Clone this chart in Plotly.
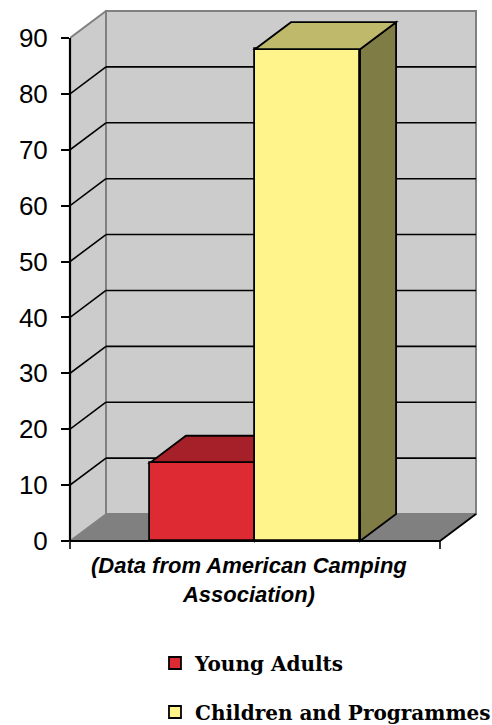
import plotly.graph_objects as go

# ---- data -------------------------------------------------------------
series = ["Young Adults", "Children and Programmes"]
values = [14, 88]
front_colors = ["#DE2B33", "#FFF38B"]
top_colors = ["#A52029", "#BFB96B"]
side_colors = ["#8A1A20", "#807C45"]
y_ticks = [0, 10, 20, 30, 40, 50, 60, 70, 80, 90]
source_note = "(Data from American Camping<br>Association)"

# ---- pseudo-3D geometry (x in category-slot units, y in data units) ---
SLOT = 0.5          # centre of the single category slot spanning [0, 1]
BAR_W = 0.284       # width of each bar's front face
DX = 0.0973         # depth offset along x
DY = 4.83           # depth offset along y
Y_TOP = y_ticks[-1]
X_RANGE = [0, 1.1054]
Y_RANGE = [-1.789, 95.37]

WALL = "#CCCCCC"
FLOOR = "#808080"
EDGE = "#808080"


def poly(points):
    return "M " + " L ".join(f"{x},{y}" for x, y in points) + " Z"


shapes = []

# side wall, back wall and floor
shapes.append(dict(type="path", layer="below", xref="x", yref="y",
                   path=poly([(0, 0), (0, Y_TOP), (DX, Y_TOP + DY), (DX, DY)]),
                   fillcolor=WALL, line=dict(width=0)))
shapes.append(dict(type="rect", layer="below", xref="x", yref="y",
                   x0=DX, x1=1 + DX, y0=DY, y1=Y_TOP + DY,
                   fillcolor=WALL, line=dict(color=EDGE, width=2)))
shapes.append(dict(type="path", layer="below", xref="x", yref="y",
                   path=poly([(0, 0), (1, 0), (1 + DX, DY), (DX, DY)]),
                   fillcolor=FLOOR, line=dict(width=0)))

# gridlines: diagonal on the side wall, horizontal on the back wall
for v in y_ticks[1:-1]:
    shapes.append(dict(type="line", layer="below", xref="x", yref="y",
                       x0=0, y0=v, x1=DX, y1=v + DY,
                       line=dict(color="black", width=1.6)))
    shapes.append(dict(type="line", layer="below", xref="x", yref="y",
                       x0=DX, y0=v + DY, x1=1 + DX, y1=v + DY,
                       line=dict(color="black", width=1.6)))

# box edges
shapes.append(dict(type="line", layer="below", xref="x", yref="y",
                   x0=0, y0=Y_TOP, x1=DX, y1=Y_TOP + DY,
                   line=dict(color=EDGE, width=2)))
shapes.append(dict(type="line", layer="below", xref="x", yref="y",
                   x0=0, y0=0, x1=DX, y1=DY,
                   line=dict(color=EDGE, width=1.5)))
shapes.append(dict(type="line", layer="below", xref="x", yref="y",
                   x0=DX, y0=DY, x1=1 + DX, y1=DY,
                   line=dict(color=EDGE, width=1.5)))

# top and side faces of the bars
offsets = [-BAR_W, 0.0]
for i, v in enumerate(values):
    x0 = SLOT + offsets[i]
    x1 = x0 + BAR_W
    layer = "below" if i == 0 else "above"
    shapes.append(dict(type="path", layer=layer, xref="x", yref="y",
                       path=poly([(x1, 0), (x1, v), (x1 + DX, v + DY), (x1 + DX, DY)]),
                       fillcolor=side_colors[i], line=dict(color="black", width=1.8)))
    shapes.append(dict(type="path", layer=layer, xref="x", yref="y",
                       path=poly([(x0, v), (x1, v), (x1 + DX, v + DY), (x0 + DX, v + DY)]),
                       fillcolor=top_colors[i], line=dict(color="black", width=1.8)))

# front floor edge (category axis) and its end ticks
shapes.append(dict(type="line", layer="above", xref="x", yref="y",
                   x0=0, y0=0, x1=1, y1=0, line=dict(color="black", width=2.2)))
shapes.append(dict(type="line", layer="above", xref="x", yref="y",
                   x0=1, y0=0, x1=1 + DX, y1=DY, line=dict(color="black", width=1.8)))
shapes.append(dict(type="line", layer="above", xref="x", yref="y",
                   x0=1, y0=0, x1=1, y1=-1.45, line=dict(color="black", width=1.6)))
shapes.append(dict(type="line", layer="above", xref="paper", yref="y",
                   x0=0, y0=0, x1=0, y1=-1.45, line=dict(color="black", width=1.6)))
# value axis line
shapes.append(dict(type="line", layer="above", xref="paper", yref="y",
                   x0=0, y0=0, x1=0, y1=Y_TOP, line=dict(color="black", width=2.2)))

fig = go.Figure()
legend_ids = ["legend", "legend2"]
for i, name in enumerate(series):
    fig.add_trace(go.Bar(
        x=[SLOT], y=[values[i]], width=[BAR_W], offset=[offsets[i]],
        name=name, legend=legend_ids[i],
        marker=dict(color=front_colors[i], line=dict(color="black", width=1.8)),
        hoverinfo="name+y",
    ))

legend_font = dict(family="DejaVu Serif", size=20, color="black", weight="bold")
legend_common = dict(xanchor="left", yanchor="middle", font=legend_font,
                     bgcolor="rgba(0,0,0,0)", borderwidth=0)

fig.update_layout(
    width=492, height=725,
    margin=dict(l=70, r=13, t=8, b=174, autoexpand=False),
    paper_bgcolor="white", plot_bgcolor="white",
    barmode="overlay", bargap=0,
    showlegend=True,
    legend=dict(x=0.2078, y=-0.2063, **legend_common),
    legend2=dict(x=0.2078, y=-0.2965, **legend_common),
    xaxis=dict(range=X_RANGE, showgrid=False, zeroline=False, showline=False,
               showticklabels=False, ticks="", fixedrange=True),
    yaxis=dict(range=Y_RANGE, tickvals=y_ticks, showgrid=False, zeroline=False,
               showline=False, ticks="outside", ticklen=8, tickwidth=1.6,
               tickcolor="black", ticklabelstandoff=8,
               tickfont=dict(family="Liberation Sans, Arial", size=26, color="black"),
               fixedrange=True),
    shapes=shapes,
    annotations=[dict(
        text=source_note, xref="paper", yref="paper", x=0.437, y=-0.0525,
        xanchor="center", yanchor="middle", showarrow=False, align="center",
        font=dict(family="Liberation Sans, Arial", size=22, color="black",
                  weight="bold", style="italic"),
    )],
)

fig.write_html("out.html")
